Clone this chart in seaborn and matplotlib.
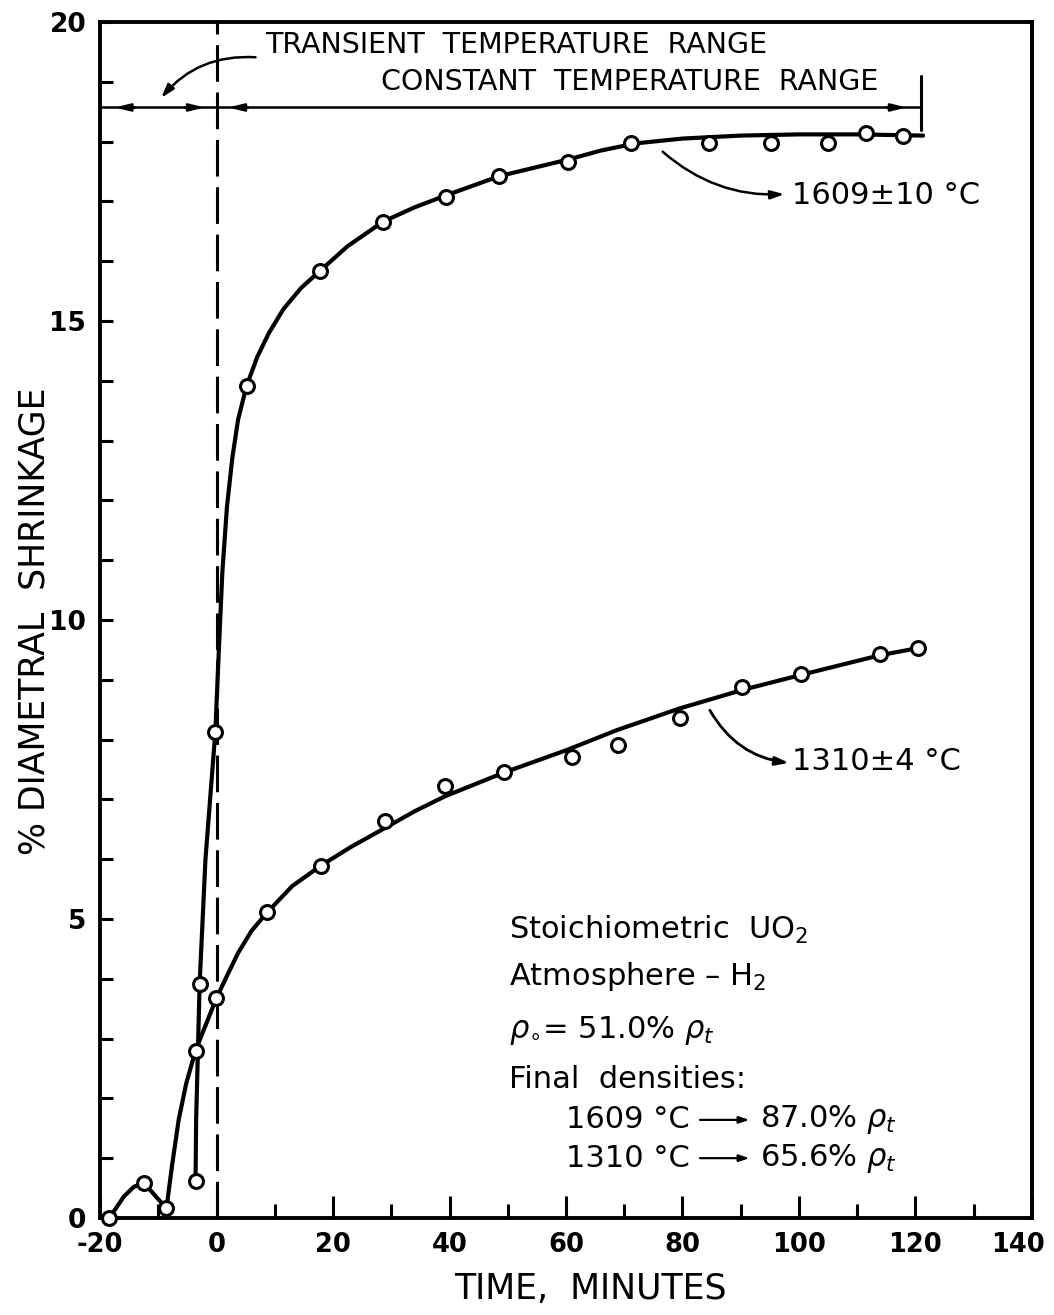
import numpy as np
import pandas as pd
import matplotlib
matplotlib.use("Agg")
import matplotlib.pyplot as plt
import matplotlib.transforms as mtransforms
import seaborn as sns

# Measured points, 1609 +/- 10 C run
t_1609 = [-3.6, -2.9, -0.2, 5.15, 17.8, 28.6, 39.4, 48.5, 60.4, 71.2, 84.5, 95.2, 105.0, 111.5, 117.9]
s_1609 = [0.61, 3.91, 8.13, 13.91, 15.84, 16.66, 17.08, 17.42, 17.66, 17.98, 17.98, 17.98, 17.98, 18.14, 18.09]

# Measured points, 1310 +/- 4 C run
t_1310 = [-18.4, -12.5, -8.6, -3.6, -0.1, 8.7, 17.9, 28.9, 39.2, 49.4, 61.0, 69.0, 79.5, 90.3, 100.3, 113.9, 120.5]
s_1310 = [0.0, 0.59, 0.16, 2.80, 3.68, 5.11, 5.89, 6.64, 7.23, 7.45, 7.70, 7.91, 8.36, 8.88, 9.10, 9.43, 9.53]

# Faired curves drawn through the data
curve_t_1609 = [-3.6, -3.5, -2.9, -1.9, -0.2, 0.4, 1.0, 1.8, 2.7, 3.7, 5.15, 7.0, 9.0, 11.5, 14.5,
                17.8, 22.5, 28.6, 34.0, 39.4, 48.5, 54.0, 60.4, 66.0, 72.0, 80.0, 90.0, 100.0,
                110.0, 121.3]
curve_s_1609 = [0.61, 1.64, 3.91, 6.0, 8.13, 9.5, 10.8, 11.9, 12.7, 13.35, 13.91, 14.4, 14.8, 15.2, 15.55,
                15.84, 16.25, 16.66, 16.9, 17.1, 17.42, 17.55, 17.7, 17.85, 17.97, 18.05, 18.1, 18.12,
                18.12, 18.10]
curve_t_1310 = [-18.4, -17.0, -15.9, -14.2, -12.5, -8.6, -7.6, -6.5, -5.2, -3.6, 0.0, 1.8, 3.7, 6.0,
                8.7, 13.0, 17.9, 23.0, 28.9, 34.0, 39.2, 49.4, 60.0, 68.8, 79.5, 90.3, 100.3,
                113.9, 120.5]
curve_s_1310 = [0.0, 0.2, 0.36, 0.52, 0.59, 0.16, 0.9, 1.64, 2.25, 2.80, 3.68, 4.05, 4.43, 4.8,
                5.11, 5.55, 5.89, 6.2, 6.52, 6.8, 7.05, 7.45, 7.82, 8.16, 8.52, 8.83, 9.08,
                9.41, 9.53]

x_ticks = [-20, 0, 20, 40, 60, 80, 100, 120, 140]
y_ticks = [0, 5, 10, 15, 20]

sns.set_style("white")
plt.rcParams["font.family"] = ["DejaVu Sans"]
plt.rcParams["mathtext.fontset"] = "dejavusans"
for key in ("text.color", "axes.labelcolor", "xtick.color", "ytick.color", "axes.edgecolor"):
    plt.rcParams[key] = "black"

fig = plt.figure(figsize=(10.54, 13.15), dpi=100)
ax = fig.add_axes([0.0949, 0.0738, 0.8842, 0.9095])

curves = pd.concat([
    pd.DataFrame({"t": curve_t_1609, "s": curve_s_1609, "run": "1609"}),
    pd.DataFrame({"t": curve_t_1310, "s": curve_s_1310, "run": "1310"}),
])
points = pd.concat([
    pd.DataFrame({"t": t_1609, "s": s_1609, "run": "1609"}),
    pd.DataFrame({"t": t_1310, "s": s_1310, "run": "1310"}),
])

sns.lineplot(data=curves, x="t", y="s", units="run", estimator=None, sort=False,
             color="black", linewidth=3.0, ax=ax, legend=False, zorder=3)
sns.scatterplot(data=points, x="t", y="s", marker="o", s=100, facecolor="white",
                edgecolor="black", linewidth=2.2, ax=ax, legend=False, zorder=4, clip_on=False)

ax.set_xlim(-20, 140)
ax.set_ylim(0, 20)
ax.set_xticks(x_ticks)
ax.set_xticklabels([str(v) for v in x_ticks])
ax.set_xticks(np.arange(-10, 140, 20), minor=True)
ax.set_yticks(y_ticks)
ax.set_yticklabels([str(v) for v in y_ticks])
ax.set_yticks(np.arange(0, 21, 1), minor=True)
ax.tick_params(axis="x", which="major", direction="in", length=16, width=2.2,
               labelsize=18.5, pad=10, bottom=True, top=False)
ax.tick_params(axis="x", which="minor", direction="in", length=10, width=2.2,
               bottom=True, top=False)
ax.tick_params(axis="y", which="both", direction="in", length=9, width=2.2,
               labelsize=19, pad=10, left=True, right=False)
for lab in ax.get_xticklabels() + ax.get_yticklabels():
    lab.set_fontweight("bold")
# keep the last time label inside the figure edge
last = ax.get_xticklabels()[-1]
last.set_transform(last.get_transform()
                   + mtransforms.ScaledTranslation(-10 / 72, 0, fig.dpi_scale_trans))
for sp in ax.spines.values():
    sp.set_visible(True)
    sp.set_linewidth(2.8)
    sp.set_color("black")

ax.set_xlabel("")
ax.set_ylabel("% DIAMETRAL  SHRINKAGE", fontsize=25)
ax.yaxis.set_label_coords(-0.052, 0.499)
ax.text(0.526, -0.059, "TIME,  MINUTES", transform=ax.transAxes, ha="center", va="center",
        fontsize=25)

# Start of the constant-temperature period
ax.axvline(0, color="black", lw=2.2, dashes=(12, 3.5), zorder=2)

# Temperature range bar
y_bar = 18.57
ax.plot([-20, 121], [y_bar, y_bar], color="black", lw=1.8, zorder=2)
ax.plot([121, 121], [18.2, 19.1], color="black", lw=2.2, zorder=2)
head = dict(arrowstyle="-|>,head_length=0.9,head_width=0.22", color="black", lw=1.8,
            shrinkA=0, shrinkB=0)
for tip, tail in [(-17.5, -14.0), (-2.0, -5.5), (2.0, 5.5), (118.5, 115.0)]:
    ax.annotate("", xy=(tip, y_bar), xytext=(tail, y_bar), arrowprops=head, zorder=3)

ax.text(8.3, 19.62, "TRANSIENT  TEMPERATURE  RANGE", fontsize=20.5, va="center", ha="left")
ax.text(28.3, 19.0, "CONSTANT  TEMPERATURE  RANGE", fontsize=20.5, va="center", ha="left")
ax.annotate("", xy=(-9.5, 18.73), xytext=(6.7, 19.41),
            arrowprops=dict(arrowstyle="-|>,head_length=0.8,head_width=0.25", color="black",
                            lw=1.8, shrinkA=0, shrinkB=0, connectionstyle="arc3,rad=0.25"))

# Curve labels
ax.text(98.8, 17.1, "1609±10 °C", fontsize=22, va="center", ha="left")
ax.annotate("", xy=(97.5, 17.12), xytext=(76.6, 17.83),
            arrowprops=dict(arrowstyle="-|>,head_length=0.8,head_width=0.25", color="black",
                            lw=1.8, shrinkA=0, shrinkB=0, connectionstyle="arc3,rad=0.2"))
ax.text(98.8, 7.63, "1310±4 °C", fontsize=22, va="center", ha="left")
ax.annotate("", xy=(98.3, 7.61), xytext=(84.7, 8.49),
            arrowprops=dict(arrowstyle="-|>,head_length=0.8,head_width=0.25", color="black",
                            lw=2.0, shrinkA=0, shrinkB=0, connectionstyle="arc3,rad=0.25"))

# Specimen notes
note_fs = 22
ax.text(50.3, 4.82, "Stoichiometric  UO$_2$", fontsize=note_fs, va="center", ha="left")
ax.text(50.3, 4.03, "Atmosphere – H$_2$", fontsize=note_fs, va="center", ha="left")
ax.text(50.3, 3.14, r"$\rho_{\circ}$= 51.0% $\rho_{t}$", fontsize=note_fs, va="center", ha="left")
ax.text(50.3, 2.31, "Final  densities:", fontsize=note_fs, va="center", ha="left")
ax.text(60.0, 1.64, "1609 °C", fontsize=note_fs, va="center", ha="left")
ax.text(60.0, 1.00, "1310 °C", fontsize=note_fs, va="center", ha="left")
ax.text(93.3, 1.64, r"87.0% $\rho_{t}$", fontsize=note_fs, va="center", ha="left")
ax.text(93.3, 1.00, r"65.6% $\rho_{t}$", fontsize=note_fs, va="center", ha="left")
small_head = dict(arrowstyle="-|>,head_length=0.6,head_width=0.2", color="black", lw=1.6,
                  shrinkA=0, shrinkB=0)
for yy in (1.64, 1.00):
    ax.annotate("", xy=(91.5, yy), xytext=(83.0, yy), arrowprops=small_head)

fig.savefig("out.png", dpi=100)
